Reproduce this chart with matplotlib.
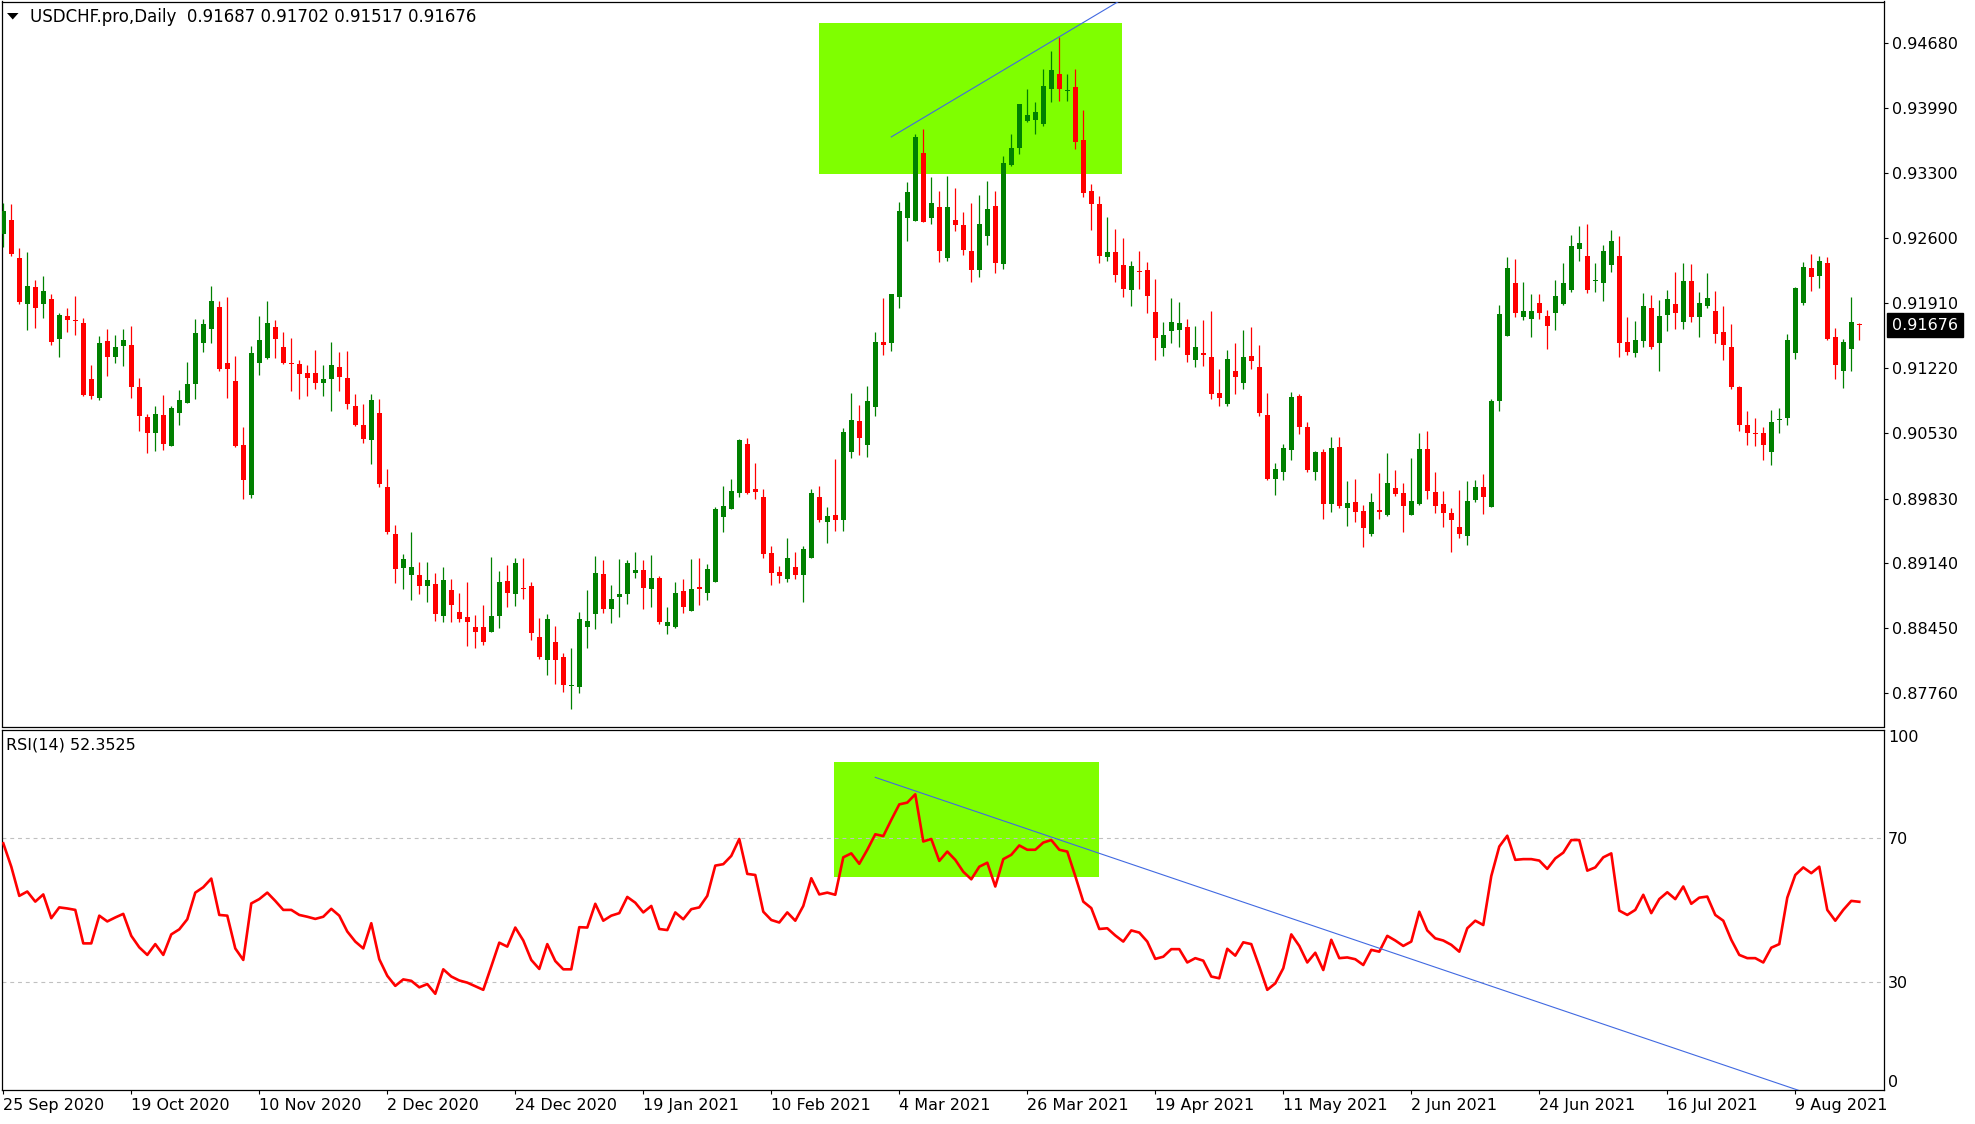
import matplotlib
matplotlib.use("Agg")
import matplotlib.pyplot as plt
import matplotlib.transforms as mtransforms
from matplotlib.patches import Rectangle, Polygon
import numpy as np

# USDCHF daily candles, 25 Sep 2020 .. 19 Aug 2021
opens = [
    0.92650, 0.92794, 0.92392, 0.91906, 0.92085, 0.91906, 0.91956, 0.91525, 0.91772, 0.91733,
    0.91698, 0.91104, 0.90900, 0.91510, 0.91342, 0.91451, 0.91466, 0.91019, 0.90702, 0.90533,
    0.90722, 0.90385, 0.90742, 0.90851, 0.91054, 0.91481, 0.91639, 0.91872, 0.91273, 0.91084,
    0.90400, 0.89865, 0.91278, 0.91322, 0.91659, 0.91446, 0.91278, 0.91263, 0.91168, 0.91168,
    0.91064, 0.91099, 0.91233, 0.91114, 0.90816, 0.90613, 0.90449, 0.90742, 0.89954, 0.89453,
    0.89087, 0.89013, 0.89018, 0.88894, 0.88924, 0.88576, 0.88859, 0.88621, 0.88571, 0.88462,
    0.88462, 0.88413, 0.88576, 0.88953, 0.88819, 0.88879, 0.88899, 0.88358, 0.88115, 0.88304,
    0.88145, 0.87832, 0.87823, 0.88467, 0.88606, 0.89028, 0.88655, 0.88780, 0.88819, 0.89033,
    0.89072, 0.88864, 0.88983, 0.88472, 0.88467, 0.88849, 0.88631, 0.88884, 0.88824, 0.88938,
    0.89632, 0.89716, 0.89894, 0.90410, 0.89934, 0.89845, 0.89250, 0.89047, 0.88978, 0.89102,
    0.89013, 0.89201, 0.89845, 0.89582, 0.89656, 0.89597, 0.90330, 0.90657, 0.90405, 0.90801,
    0.91496, 0.91481, 0.91981, 0.92814, 0.92789, 0.93507, 0.92814, 0.92933, 0.92388, 0.92794,
    0.92744, 0.92467, 0.92264, 0.92630, 0.92948, 0.92323, 0.93384, 0.93567, 0.93854, 0.93864,
    0.93815, 0.94186, 0.94350, 0.94167, 0.94211, 0.93646, 0.93101, 0.92968, 0.92397, 0.92457,
    0.92318, 0.92055, 0.92249, 0.92264, 0.91817, 0.91431, 0.91610, 0.91629, 0.91659, 0.91302,
    0.91382, 0.91337, 0.90955, 0.90841, 0.91188, 0.91064, 0.91347, 0.91233, 0.90722, 0.90043,
    0.90108, 0.90350, 0.90920, 0.90593, 0.90108, 0.90325, 0.89775, 0.90380, 0.89726, 0.89795,
    0.89696, 0.89448, 0.89706, 0.89656, 0.89944, 0.89889, 0.89651, 0.89770, 0.90360, 0.89899,
    0.89770, 0.89676, 0.89528, 0.89429, 0.89810, 0.89954, 0.89736, 0.90866, 0.91565, 0.92125,
    0.91758, 0.91738, 0.91911, 0.91772, 0.91802, 0.91901, 0.92055, 0.92491, 0.92412, 0.92150,
    0.92120, 0.92313, 0.92412, 0.91496, 0.91377, 0.91510, 0.91857, 0.91481, 0.91782, 0.91901,
    0.91708, 0.92145, 0.91758, 0.91877, 0.91827, 0.91605, 0.91446, 0.91014, 0.90613, 0.90533,
    0.90529, 0.90330, 0.90662, 0.90687, 0.91377, 0.91911, 0.92284, 0.92204, 0.92338, 0.91550,
    0.91193, 0.91421, 0.91687]
highs = [
    0.92973, 0.92968, 0.92496, 0.92457, 0.92159, 0.92199, 0.92010, 0.91807, 0.91857, 0.91986,
    0.91748, 0.91253, 0.91560, 0.91634, 0.91570, 0.91634, 0.91669, 0.91114, 0.90727, 0.90816,
    0.90935, 0.90816, 0.90985, 0.91282, 0.91743, 0.91738, 0.92095, 0.91931, 0.91976, 0.91347,
    0.90588, 0.91451, 0.91772, 0.91931, 0.91733, 0.91605, 0.91535, 0.91302, 0.91248, 0.91411,
    0.91248, 0.91496, 0.91387, 0.91406, 0.90945, 0.90836, 0.90945, 0.90890, 0.90147, 0.89547,
    0.89240, 0.89473, 0.89156, 0.89156, 0.89033, 0.89102, 0.88973, 0.88824, 0.88938, 0.88591,
    0.88695, 0.89210, 0.89062, 0.89122, 0.89196, 0.89196, 0.88943, 0.88561, 0.88596, 0.88472,
    0.88184, 0.88234, 0.88621, 0.88859, 0.89220, 0.89176, 0.88909, 0.89186, 0.89171, 0.89265,
    0.89176, 0.89225, 0.89008, 0.88675, 0.88943, 0.88973, 0.89186, 0.89196, 0.89136, 0.89741,
    0.89964, 0.90038, 0.90464, 0.90474, 0.90212, 0.89929, 0.89325, 0.89112, 0.89409, 0.89260,
    0.89320, 0.89934, 0.89964, 0.89741, 0.90251, 0.90583, 0.90955, 0.90826, 0.91029, 0.91605,
    0.91961, 0.92010, 0.92987, 0.93200, 0.93706, 0.93765, 0.93250, 0.93106, 0.93265, 0.93136,
    0.92883, 0.92977, 0.93061, 0.93210, 0.93106, 0.93478, 0.93711, 0.94033, 0.94192, 0.94053,
    0.94400, 0.94593, 0.94746, 0.94350, 0.94400, 0.93968, 0.93180, 0.93047, 0.92829, 0.92700,
    0.92605, 0.92358, 0.92467, 0.92353, 0.92169, 0.91708, 0.91966, 0.91921, 0.91743, 0.91669,
    0.91733, 0.91827, 0.91208, 0.91411, 0.91486, 0.91624, 0.91659, 0.91466, 0.90955, 0.90212,
    0.90410, 0.90960, 0.90945, 0.90647, 0.90340, 0.90360, 0.90484, 0.90484, 0.90018, 0.90043,
    0.89761, 0.89889, 0.90103, 0.90315, 0.90132, 0.89998, 0.90261, 0.90529, 0.90548, 0.90113,
    0.89914, 0.89731, 0.89924, 0.90018, 0.90028, 0.90093, 0.90890, 0.91892, 0.92402, 0.92383,
    0.92135, 0.92010, 0.92010, 0.91837, 0.92159, 0.92338, 0.92635, 0.92729, 0.92754, 0.92338,
    0.92531, 0.92690, 0.92625, 0.91763, 0.91723, 0.92020, 0.91996, 0.91946, 0.92050, 0.92239,
    0.92338, 0.92328, 0.92030, 0.92234, 0.92040, 0.91882, 0.91693, 0.91024, 0.90762, 0.90687,
    0.90593, 0.90771, 0.90796, 0.91585, 0.92085, 0.92353, 0.92432, 0.92412, 0.92402, 0.91644,
    0.91525, 0.91976, 0.91702]
lows = [
    0.92511, 0.92412, 0.91901, 0.91629, 0.91649, 0.91748, 0.91461, 0.91342, 0.91600, 0.91575,
    0.90925, 0.90886, 0.90876, 0.91138, 0.91268, 0.91238, 0.90905, 0.90553, 0.90310, 0.90340,
    0.90350, 0.90385, 0.90618, 0.90851, 0.90895, 0.91387, 0.91481, 0.91183, 0.90905, 0.90375,
    0.89830, 0.89840, 0.91143, 0.91317, 0.91322, 0.91258, 0.90980, 0.90886, 0.90920, 0.91000,
    0.90920, 0.90767, 0.90980, 0.90786, 0.90598, 0.90419, 0.90202, 0.89954, 0.89448, 0.88933,
    0.88864, 0.88755, 0.88819, 0.88725, 0.88531, 0.88517, 0.88512, 0.88512, 0.88264, 0.88239,
    0.88274, 0.88413, 0.88457, 0.88680, 0.88690, 0.88765, 0.88324, 0.88120, 0.87951, 0.87852,
    0.87768, 0.87590, 0.87758, 0.88239, 0.88437, 0.88616, 0.88502, 0.88566, 0.88705, 0.88988,
    0.88655, 0.88680, 0.88492, 0.88393, 0.88457, 0.88616, 0.88631, 0.88700, 0.88755, 0.88938,
    0.89478, 0.89716, 0.89850, 0.89875, 0.89830, 0.89201, 0.88914, 0.88928, 0.88938, 0.88978,
    0.88725, 0.89201, 0.89577, 0.89354, 0.89488, 0.89488, 0.90266, 0.90291, 0.90276, 0.90712,
    0.91362, 0.91406, 0.91862, 0.92576, 0.92789, 0.92779, 0.92749, 0.92353, 0.92363, 0.92675,
    0.92427, 0.92140, 0.92194, 0.92526, 0.92234, 0.92269, 0.93369, 0.93503, 0.93835, 0.93706,
    0.93800, 0.94048, 0.94058, 0.94058, 0.93547, 0.93037, 0.92685, 0.92333, 0.92363, 0.92135,
    0.91981, 0.91877, 0.92065, 0.91802, 0.91302, 0.91352, 0.91486, 0.91441, 0.91287, 0.91228,
    0.91238, 0.90895, 0.90811, 0.90811, 0.90940, 0.91000, 0.91213, 0.90712, 0.90028, 0.89865,
    0.90023, 0.90236, 0.90514, 0.90117, 0.90033, 0.89612, 0.89691, 0.89731, 0.89543, 0.89577,
    0.89310, 0.89429, 0.89617, 0.89646, 0.89855, 0.89478, 0.89651, 0.89761, 0.89830, 0.89681,
    0.89523, 0.89265, 0.89414, 0.89339, 0.89790, 0.89661, 0.89736, 0.90767, 0.91565, 0.91758,
    0.91733, 0.91545, 0.91738, 0.91426, 0.91629, 0.91887, 0.92025, 0.92363, 0.92015, 0.92025,
    0.91936, 0.92239, 0.91342, 0.91357, 0.91332, 0.91441, 0.91426, 0.91183, 0.91610, 0.91634,
    0.91639, 0.91708, 0.91555, 0.91862, 0.91491, 0.91302, 0.91000, 0.90553, 0.90405, 0.90390,
    0.90236, 0.90192, 0.90529, 0.90613, 0.91312, 0.91892, 0.92035, 0.92075, 0.91515, 0.91099,
    0.91005, 0.91193, 0.91517]
closes = [
    0.92893, 0.92432, 0.91921, 0.92095, 0.91862, 0.92035, 0.91500, 0.91782, 0.91728, 0.91718,
    0.90935, 0.90925, 0.91486, 0.91342, 0.91446, 0.91520, 0.91014, 0.90712, 0.90533, 0.90732,
    0.90414, 0.90796, 0.90881, 0.91049, 0.91595, 0.91689, 0.91931, 0.91208, 0.91213, 0.90390,
    0.90023, 0.91382, 0.91520, 0.91698, 0.91525, 0.91268, 0.91263, 0.91153, 0.91109, 0.91064,
    0.91104, 0.91253, 0.91129, 0.90841, 0.90608, 0.90469, 0.90881, 0.89984, 0.89478, 0.89077,
    0.89186, 0.89102, 0.88904, 0.88963, 0.88596, 0.88963, 0.88700, 0.88551, 0.88512, 0.88413,
    0.88299, 0.88581, 0.88943, 0.88829, 0.89146, 0.88869, 0.88403, 0.88140, 0.88546, 0.88110,
    0.87847, 0.87847, 0.88546, 0.88526, 0.89037, 0.88655, 0.88760, 0.88814, 0.89146, 0.89067,
    0.88874, 0.88983, 0.88517, 0.88517, 0.88824, 0.88680, 0.88869, 0.88864, 0.89082, 0.89721,
    0.89751, 0.89909, 0.90454, 0.89894, 0.89904, 0.89235, 0.89033, 0.89003, 0.89196, 0.89013,
    0.89295, 0.89889, 0.89597, 0.89646, 0.89607, 0.90538, 0.90667, 0.90479, 0.90871, 0.91496,
    0.91461, 0.92010, 0.92893, 0.93096, 0.93681, 0.92779, 0.92977, 0.92462, 0.92933, 0.92739,
    0.92472, 0.92264, 0.92754, 0.92913, 0.92333, 0.93403, 0.93562, 0.94033, 0.93914, 0.93944,
    0.94221, 0.94395, 0.94186, 0.94182, 0.93622, 0.93086, 0.92962, 0.92417, 0.92457, 0.92214,
    0.92065, 0.92308, 0.92239, 0.91991, 0.91535, 0.91570, 0.91708, 0.91698, 0.91362, 0.91446,
    0.91362, 0.90940, 0.90905, 0.91317, 0.91119, 0.91337, 0.91297, 0.90737, 0.90043, 0.90147,
    0.90370, 0.90910, 0.90588, 0.90137, 0.90330, 0.89775, 0.90370, 0.89746, 0.89785, 0.89691,
    0.89513, 0.89795, 0.89691, 0.89998, 0.89875, 0.89746, 0.89805, 0.90360, 0.89914, 0.89756,
    0.89681, 0.89597, 0.89458, 0.89805, 0.89954, 0.89850, 0.90871, 0.91797, 0.92284, 0.91802,
    0.91827, 0.91827, 0.91802, 0.91664, 0.91986, 0.92125, 0.92521, 0.92551, 0.92055, 0.92159,
    0.92467, 0.92571, 0.91491, 0.91387, 0.91520, 0.91882, 0.91441, 0.91772, 0.91956, 0.91802,
    0.92145, 0.91768, 0.91911, 0.91966, 0.91580, 0.91461, 0.91014, 0.90618, 0.90529, 0.90519,
    0.90405, 0.90647, 0.90677, 0.91520, 0.92070, 0.92294, 0.92184, 0.92358, 0.91530, 0.91248,
    0.91500, 0.91713, 0.91676]

# RSI(14) as drawn in the lower pane
rsi = [
    68.6, 62.1, 54.0, 55.2, 52.4, 54.4, 47.8, 50.8, 50.5, 50.1,
    40.8, 40.8, 48.5, 46.9, 48.0, 49.0, 42.9, 39.7, 37.6, 40.6,
    37.6, 43.3, 44.7, 47.5, 54.9, 56.4, 58.8, 48.7, 48.5, 39.4,
    36.2, 51.9, 53.1, 54.9, 52.6, 50.1, 50.1, 48.7, 48.2, 47.6,
    48.2, 50.4, 48.5, 44.1, 41.3, 39.4, 46.4, 36.4, 31.8, 29.0,
    30.8, 30.4, 28.6, 29.5, 26.8, 33.6, 31.6, 30.5, 29.9, 28.9,
    27.9, 34.4, 41.0, 39.9, 45.2, 41.6, 36.2, 33.7, 40.6, 35.9,
    33.6, 33.6, 45.3, 45.2, 51.8, 47.1, 48.5, 49.2, 53.7, 52.1,
    49.4, 51.2, 44.8, 44.5, 49.4, 47.5, 50.3, 50.8, 54.0, 62.4,
    62.8, 65.1, 69.8, 60.1, 59.8, 49.6, 47.3, 46.6, 49.4, 47.1,
    51.2, 58.9, 54.4, 54.9, 54.3, 64.7, 65.8, 62.9, 66.8, 71.1,
    70.6, 75.1, 79.4, 79.9, 82.2, 69.1, 69.8, 63.7, 66.3, 64.0,
    60.7, 58.6, 62.1, 63.2, 56.6, 64.2, 65.4, 68.0, 66.8, 66.8,
    68.8, 69.5, 66.8, 66.3, 59.5, 52.4, 50.6, 44.8, 45.0, 43.0,
    41.3, 44.4, 43.8, 41.3, 36.5, 37.1, 39.2, 39.2, 35.5, 36.7,
    36.0, 31.6, 31.1, 39.3, 37.4, 41.1, 40.6, 34.4, 27.9, 29.7,
    33.9, 43.3, 40.1, 35.5, 38.2, 33.4, 41.8, 36.7, 36.9, 36.4,
    34.8, 39.0, 38.5, 42.9, 41.6, 40.1, 41.3, 49.6, 44.4, 42.2,
    41.6, 40.4, 38.5, 45.0, 47.1, 45.9, 59.5, 67.7, 70.7, 64.0,
    64.2, 64.2, 63.8, 61.5, 64.4, 66.0, 69.5, 69.5, 61.0, 61.9,
    64.7, 65.8, 49.9, 48.7, 50.1, 54.3, 49.2, 53.1, 55.0, 53.1,
    56.6, 51.8, 53.5, 53.8, 48.7, 47.1, 41.8, 37.6, 36.7, 36.7,
    35.5, 39.6, 40.6, 53.5, 59.8, 61.9, 60.3, 62.1, 50.1, 47.1,
    50.1, 52.6, 52.35]

date_labels = ["25 Sep 2020", "19 Oct 2020", "10 Nov 2020", "2 Dec 2020", "24 Dec 2020",
               "19 Jan 2021", "10 Feb 2021", "4 Mar 2021", "26 Mar 2021", "19 Apr 2021",
               "11 May 2021", "2 Jun 2021", "24 Jun 2021", "16 Jul 2021", "9 Aug 2021"]
BARS_PER_LABEL = 16
price_ticks = [0.94680, 0.93990, 0.93300, 0.92600, 0.91910, 0.91220,
               0.90530, 0.89830, 0.89140, 0.88450, 0.87760]
rsi_ticks = [0, 30, 70, 100]
rsi_levels = [30, 70]

# drawings: boxes (bar0, bar1, low, high) and trend lines (two anchor points)
price_box = [101.96, 139.9, 0.93290, 0.94898]
rsi_box = [103.9, 137.0, 59.3, 91.2]
price_trend = ([111, 132], [0.93680, 0.94746])
rsi_trend = ([109, 224.4], [86.9, 0.0])

header = "USDCHF.pro,Daily  0.91687 0.91702 0.91517 0.91676"
rsi_title = "RSI(14) 52.3525"

GREEN = "#008000"
RED = "#ff0000"
BOX = "#7fff00"
BLUE = "#4169e1"
FS = 11.5

W, H = 1975.0, 1124.0


def px_rect(x0, y0, x1, y1):
    """pixel box (top-left origin) -> figure fraction rect"""
    return [x0 / W, 1 - y1 / H, (x1 - x0) / W, (y1 - y0) / H]


def ray(pts, x_end):
    (x0, x1), (y0, y1) = pts
    k = (y1 - y0) / (x1 - x0)
    return [x0, x_end], [y0, y0 + k * (x_end - x0)]


fig = plt.figure(figsize=(W / 100, H / 100), dpi=100)
fig.patch.set_facecolor("white")

ax = fig.add_axes(px_rect(2, 1.5, 1884, 726.5))
ax_rsi = fig.add_axes(px_rect(2, 729.5, 1884, 1090.3))

n = len(closes)
x = np.arange(n)
o = np.array(opens)
c = np.array(closes)
up = c >= o
colors = np.where(up, GREEN, RED)

xlim = (-0.16, 235.09)

# --- price pane ---
ax.add_patch(Rectangle((price_box[0], price_box[2]), price_box[1] - price_box[0],
                       price_box[3] - price_box[2], fc=BOX, ec="none", zorder=1))
ax.vlines(x, lows, highs, colors=colors, linewidth=0.9, zorder=3)
body_lo = np.minimum(o, c)
body_h = np.maximum(np.abs(c - o), 0.0001)
ax.bar(x, body_h, bottom=body_lo, width=0.62, color=colors, linewidth=0, zorder=4)
tx, ty = ray(price_trend, 160)
ax.plot(tx, ty, color=BLUE, lw=0.8, zorder=5)

ax.set_xlim(*xlim)
ax.set_ylim(0.874035, 0.951218)
ax.set_xticks([])
ax.yaxis.tick_right()
ax.set_yticks(price_ticks)
ax.set_yticklabels([f"{p:.5f}" for p in price_ticks])
ax.tick_params(axis="y", length=3, width=0.8, pad=3, labelsize=FS)
for s in ax.spines.values():
    s.set_linewidth(0.9)

# last price tag
blend = mtransforms.blended_transform_factory(ax.transAxes, ax.transData)
ax.text(1.0043, closes[-1], f"{closes[-1]:.5f}", transform=blend, color="white",
        fontsize=FS, ha="left", va="center", clip_on=False,
        bbox=dict(boxstyle="square,pad=0.3", fc="black", ec="black"))

# --- RSI pane ---
ax_rsi.add_patch(Rectangle((rsi_box[0], rsi_box[2]), rsi_box[1] - rsi_box[0],
                           rsi_box[3] - rsi_box[2], fc=BOX, ec="none", zorder=1))
for lvl in rsi_levels:
    ax_rsi.axhline(lvl, color="#c0c0c0", lw=0.8, ls=(0, (3.5, 3.5)), zorder=2)
ax_rsi.plot(x, rsi, color=RED, lw=1.9, zorder=4)
rx, ry = ray(rsi_trend, 240)
ax_rsi.plot(rx, ry, color=BLUE, lw=0.8, zorder=5)

ax_rsi.set_xlim(*xlim)
ax_rsi.set_ylim(0, 100.2)
ax_rsi.yaxis.tick_right()
ax_rsi.set_yticks(rsi_ticks)
ax_rsi.set_yticklabels([str(t) for t in rsi_ticks])
ax_rsi.tick_params(axis="y", length=0, pad=3, labelsize=FS)
for lbl in ax_rsi.get_yticklabels():
    if lbl.get_text() == "100":
        lbl.set_va("top")
    elif lbl.get_text() == "0":
        lbl.set_va("bottom")

ax_rsi.set_xticks([k * BARS_PER_LABEL for k in range(len(date_labels))])
ax_rsi.set_xticklabels(date_labels, ha="left")
ax_rsi.tick_params(axis="x", length=3, width=0.8, pad=2.5, labelsize=FS)
for s in ax_rsi.spines.values():
    s.set_linewidth(0.9)

ax_rsi.text(0.0021, 0.956, rsi_title, transform=ax_rsi.transAxes,
            fontsize=FS, ha="left", va="center")

# header line of the price pane
fig.text(30 / W, 1 - 17.5 / H, header, fontsize=12, ha="left", va="center")
tri = Polygon([[7 / W, 1 - 13 / H], [18.5 / W, 1 - 13 / H], [12.75 / W, 1 - 19.5 / H]],
              closed=True, fc="black", ec="none", transform=fig.transFigure)
fig.patches.append(tri)

fig.savefig("out.png", dpi=100)
